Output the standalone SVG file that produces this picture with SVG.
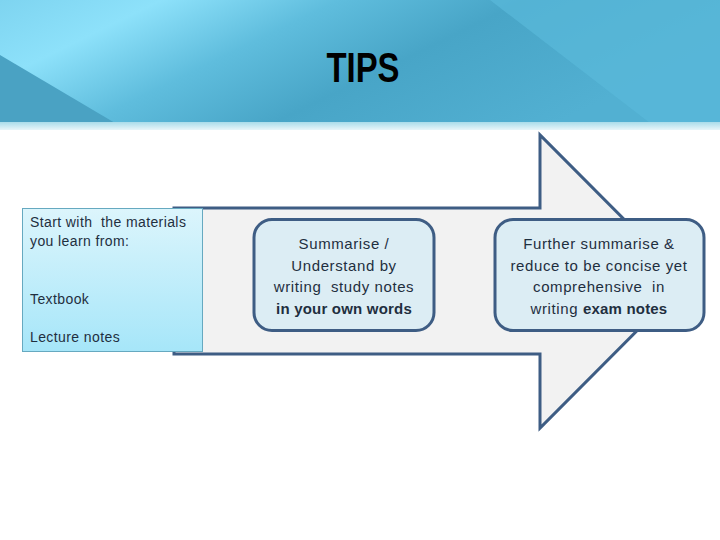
<svg xmlns="http://www.w3.org/2000/svg" width="720" height="540" viewBox="0 0 720 540">
<defs>
<linearGradient id="hdr" x1="0" y1="0" x2="1" y2="0.35">
<stop offset="0" stop-color="#7ed4f0"/>
<stop offset="0.2" stop-color="#8de1fa"/>
<stop offset="0.42" stop-color="#5fbddd"/>
<stop offset="0.65" stop-color="#48a5c7"/>
<stop offset="1" stop-color="#52b0d2"/>
</linearGradient>
<linearGradient id="strip" x1="0" y1="0" x2="0" y2="1">
<stop offset="0" stop-color="#a9dcea"/>
<stop offset="1" stop-color="#e8f6fa"/>
</linearGradient>
<linearGradient id="src" x1="0" y1="0" x2="0" y2="1">
<stop offset="0" stop-color="#dcf5fc"/>
<stop offset="1" stop-color="#a6e6f9"/>
</linearGradient>
<style>
.t{font-family:"Liberation Sans",Arial,sans-serif;font-size:15px;letter-spacing:0.6px;fill:#1f2f3f;white-space:pre}
.s{font-size:14px;letter-spacing:0.4px}
.c{text-anchor:middle}
.b{font-weight:bold}
.box{fill:#dcedf4;stroke:#3e5d84;stroke-width:3}
</style>
</defs>
<rect width="720" height="540" fill="#ffffff"/>
<g id="header">
<rect x="0" y="0" width="720" height="123" fill="url(#hdr)"/>
<polygon points="490,0 720,0 720,123 650,123" fill="#5ab9da" opacity="0.7"/>
<polygon points="0,55 0,123 115,123" fill="#4aa2c3"/>
<rect x="0" y="122" width="720" height="8" fill="url(#strip)"/>
<text x="363" y="82" text-anchor="middle" font-family="'Liberation Sans',Arial,sans-serif" font-weight="bold" font-size="42" textLength="73" lengthAdjust="spacingAndGlyphs" fill="#000">TIPS</text>
</g>
<g id="arrow">
<polygon points="174,208 540,208 540,135 686,281.5 540,428 540,354 174,354" fill="#f2f2f2" stroke="#3e5d84" stroke-width="3" stroke-linejoin="miter"/>
</g>
<g id="connectors"></g>
<g id="sources">
<rect x="22.5" y="208.5" width="180" height="143" fill="url(#src)" stroke="#66a9c0" stroke-width="1"/>
<text class="t s" x="30" y="227" xml:space="preserve">Start with  the materials</text>
<text class="t s" x="30" y="246">you learn from:</text>
<text class="t s" x="30" y="303.5">Textbook</text>
<text class="t s" x="30" y="342">Lecture notes</text>
</g>
<g id="study-notes">
<rect class="box" x="254" y="219.5" width="180" height="111" rx="18"/>
<text class="t c" x="344" y="248.5">Summarise /</text>
<text class="t c" x="344" y="270.5">Understand by</text>
<text class="t c" x="344" y="292" xml:space="preserve">writing  study notes</text>
<text class="t c b" x="344" y="313.5" style="letter-spacing:0.2px">in your own words</text>
</g>
<g id="exam-notes">
<rect class="box" x="495" y="219.5" width="209" height="111" rx="18"/>
<text class="t c" x="599" y="248.5">Further summarise &amp;</text>
<text class="t c" x="599" y="270.5">reduce to be concise yet</text>
<text class="t c" x="599" y="292" xml:space="preserve">comprehensive  in</text>
<text class="t c" x="599" y="313.5">writing <tspan class="b" style="letter-spacing:0.2px">exam notes</tspan></text>
</g>
</svg>
